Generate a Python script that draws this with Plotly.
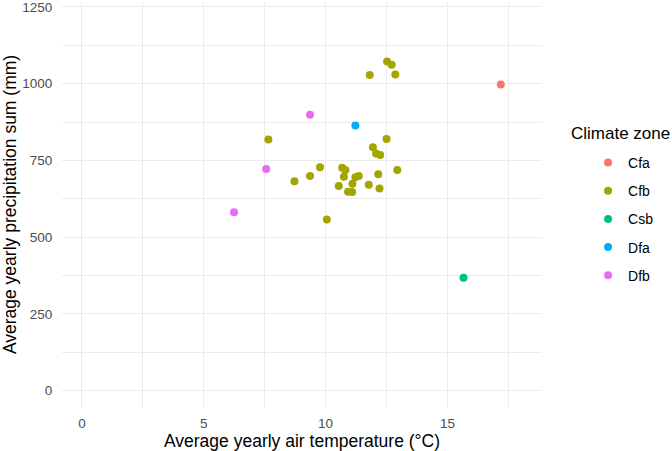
import plotly.graph_objects as go

zones = ["Cfa", "Cfb", "Csb", "Dfa", "Dfb"]
colors = ["#F8766D", "#A3A500", "#00BF7D", "#00B0F6", "#E76BF3"]

cfa_temp = [17.19]
cfa_prec = [997]

cfb_temp = [7.65, 8.72, 9.36, 9.77, 10.05, 10.68, 10.81, 10.75, 10.54, 10.92, 11.09, 11.10, 11.22,
            11.36, 11.77, 12.16, 12.21, 12.94, 11.94, 12.07, 12.24, 12.50, 12.52, 12.71, 11.81, 12.86]
cfb_prec = [818, 682, 699, 728, 558, 726, 719, 697, 667, 648, 647, 674, 695,
            699, 671, 705, 659, 719, 793, 773, 768, 820, 1072, 1062, 1028, 1030]

csb_temp = [15.66]
csb_prec = [368]

dfa_temp = [11.22]
dfa_prec = [864]

dfb_temp = [9.36, 7.56, 6.24]
dfb_prec = [899, 722, 581]

temps = [cfa_temp, cfb_temp, csb_temp, dfa_temp, dfb_temp]
precs = [cfa_prec, cfb_prec, csb_prec, dfa_prec, dfb_prec]

x_ticks = [0, 5, 10, 15]
y_ticks = [0, 250, 500, 750, 1000, 1250]

FONT = "Liberation Sans, Arial, Helvetica, sans-serif"

fig = go.Figure()
for z, c, t, p in zip(zones, colors, temps, precs):
    fig.add_trace(go.Scatter(
        x=t, y=p, mode="markers", name=z, legendgroup=z,
        marker=dict(color=c, size=8, line=dict(width=0)),
    ))

fig.update_layout(
    width=672, height=451,
    paper_bgcolor="white", plot_bgcolor="white",
    margin=dict(l=62, r=130, t=0, b=44),
    font=dict(family=FONT, color="black"),
    legend=dict(
        font=dict(size=14, color="black"),
        x=1.096, xanchor="left", xref="paper",
        y=0.4644, yanchor="middle",
        tracegroupgap=7,
        itemwidth=30,
        bgcolor="rgba(0,0,0,0)",
    ),
    showlegend=True,
    annotations=[dict(
        text="Climate zone", showarrow=False,
        xref="paper", yref="paper", x=1.0563, y=0.6757,
        xanchor="left", yanchor="middle",
        font=dict(size=17, color="black"),
    )],
)

fig.update_xaxes(
    range=[-0.82, 18.88],
    tickvals=x_ticks, ticktext=[str(v) for v in x_ticks],
    tickfont=dict(size=13.5, color="#4D4D4D"),
    ticks="outside", ticklen=4, tickcolor="rgba(0,0,0,0)",
    ticklabeloverflow="allow",
    showgrid=True, gridcolor="#EBEBEB", gridwidth=1.2,
    minor=dict(tickvals=[2.5, 7.5, 12.5, 17.5], showgrid=True, gridcolor="#EBEBEB", gridwidth=0.6),
    zeroline=False, showline=False,
    title=dict(text="Average yearly air temperature (°C)", font=dict(size=17.5, color="black"), standoff=2),
)
fig.update_yaxes(
    range=[-53, 1266],
    tickvals=y_ticks, ticktext=[str(v) for v in y_ticks],
    tickfont=dict(size=13.5, color="#4D4D4D"),
    ticks="outside", ticklen=6, tickcolor="rgba(0,0,0,0)",
    ticklabeloverflow="allow",
    showgrid=True, gridcolor="#EBEBEB", gridwidth=1.2,
    minor=dict(tickvals=[125, 375, 625, 875, 1125], showgrid=True, gridcolor="#EBEBEB", gridwidth=0.6),
    zeroline=False, showline=False,
    title=dict(text="Average yearly precipitation sum (mm)", font=dict(size=17.5, color="black"), standoff=5),
)

fig.write_html("out.html")
